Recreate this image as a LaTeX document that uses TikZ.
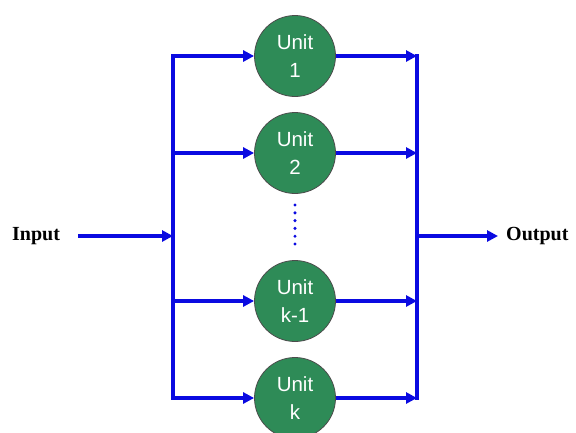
\documentclass[tikz,border=0pt]{standalone}
\usepackage{fontspec}
\setmainfont{Liberation Serif}
\setsansfont{Liberation Sans}
\usetikzlibrary{arrows.meta}
\definecolor{unitgreen}{RGB}{46,139,87}
\definecolor{wireblue}{RGB}{10,10,225}
\begin{document}
\begin{tikzpicture}[x=1pt,y=-1pt,
  unit/.style={circle,draw=black!70,line width=0.8pt,fill=unitgreen,minimum size=81pt,inner sep=0pt,
    text=white,align=center,font=\sffamily\fontsize{20.5}{28}\selectfont},
  wire/.style={draw=wireblue,line width=3.6pt},
  arr/.style={wire,-{Triangle[length=11pt,width=11pt]}},
  lbl/.style={font=\rmfamily\bfseries\fontsize{20}{22}\selectfont}]
\useasboundingbox (0,0) rectangle (576,432);
% units
\node[unit] (u1) at (295,56) {Unit\\1};
\node[unit] (u2) at (295,153) {Unit\\2};
\node[unit] (u3) at (295,301) {Unit\\k-1};
\node[unit] (u4) at (295,398) {Unit\\k};
% buses
\coordinate (lt) at (173,56);
\coordinate (lb) at (173,398);
\coordinate (rt) at (417,56);
\coordinate (rb) at (417,398);
\draw[wire,line cap=rect] (lt) -- (lb);
\draw[wire,line cap=rect] (rt) -- (rb);
% arrows to and from units
\foreach \u in {u1,u2,u3,u4}{
  \draw[arr] (lt |- \u) -- (\u.west);
  \draw[arr] (\u.east) -- (rt |- \u);
}
% input/output
\node[lbl,anchor=west,inner sep=0pt] (in) at (12,236) {Input};
\node[lbl,anchor=west,inner sep=0pt] (out) at (506,236) {Output};
\coordinate (ina) at (78,236);
\coordinate (outa) at (417,236);
\coordinate (outt) at (498,236);
\draw[arr] (ina) -- (lt |- ina);
\draw[arr] (outa) -- (outt);
% dots
\foreach \k in {0,...,5}{
  \fill[wireblue] (295,205+7.8*\k) circle (1.7pt);
}
\end{tikzpicture}
\end{document}
